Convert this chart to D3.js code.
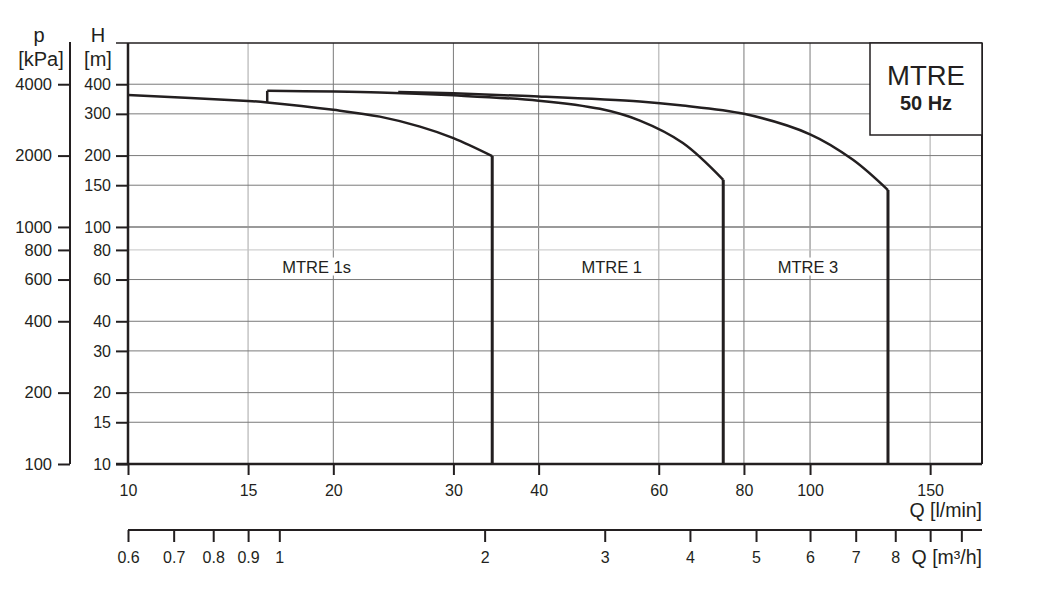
<!DOCTYPE html>
<html>
<head>
<meta charset="utf-8">
<script src="https://cdn.jsdelivr.net/npm/d3@7"></script>
<style>
  body { margin: 0; background: #fff; }
  svg text { font-family: "Liberation Sans", Arial, sans-serif; fill: #231f20; }
</style>
</head>
<body>
<svg id="chart" width="1037" height="613"></svg>
<script>
// flow in l/min, head in m
const q1s = [10, 15, 16, 20, 23.4, 26.8, 30, 34.2];
const h1s = [360, 340, 335, 312, 292, 265, 237, 199];

const q1 = [16, 23.4, 30, 40, 49.2, 56.3, 65.1, 74.6];
const h1 = [375, 369, 359, 341, 315, 281, 226, 158];

const q3 = [24.9, 30, 40, 56.3, 64.5, 80, 100, 115.6, 130.1];
const h3 = [371, 366, 355, 338, 326, 300, 246, 192, 143];

const curveNames = ["MTRE 1s", "MTRE 1", "MTRE 3"];
const curveLabelQ = [18.9, 51.2, 99.3];
const curveLabelH = [60, 60, 60];

const hTicks = [10, 15, 20, 30, 40, 60, 80, 100, 150, 200, 300, 400];
const pTicks = [100, 200, 400, 600, 800, 1000, 2000, 4000];
const qTicks = [10, 15, 20, 30, 40, 60, 80, 100, 150];
const m3hTicks = [0.6, 0.7, 0.8, 0.9, 1, 2, 3, 4, 5, 6, 7, 8, 9, 10];
const m3hLabels = ["0.6", "0.7", "0.8", "0.9", "1", "2", "3", "4", "5", "6", "7", "8", "", ""];
const lightQ = [15, 60, 150];
const lightH = [80];

const svg = d3.select("#chart");
const dark = "#231f20";

const plotL = 128, plotR = 982, plotT = 43, plotB = 464;

const x = d3.scaleLog().domain([10, 178.7]).range([plotL, plotR]);
const y = d3.scaleLog().domain([10, 597]).range([plotB, plotT]);
const yP = d3.scaleLog().domain([100, 5970]).range([plotB, plotT]);
const xM = d3.scaleLog().domain([0.6, 178.7 * 0.06]).range([plotL, plotR]);

// grid
const grid = svg.append("g");
qTicks.slice(1).forEach(function (q) {
  grid.append("line")
    .attr("x1", x(q)).attr("x2", x(q))
    .attr("y1", plotT).attr("y2", plotB)
    .attr("stroke", lightQ.includes(q) ? "#c4c4c4" : "#7a7a7a")
    .attr("stroke-width", lightQ.includes(q) ? 1.5 : 1);
});
hTicks.slice(1).forEach(function (h) {
  grid.append("line")
    .attr("x1", plotL).attr("x2", plotR)
    .attr("y1", y(h)).attr("y2", y(h))
    .attr("stroke", h === 100 ? "#9a9a9a" : lightH.includes(h) ? "#c4c4c4" : "#7a7a7a")
    .attr("stroke-width", h === 100 ? 2 : 1);
});

// frame
svg.append("line").attr("x1", 116).attr("x2", plotR).attr("y1", plotT).attr("y2", plotT)
  .attr("stroke", dark).attr("stroke-width", 1.5);
svg.append("line").attr("x1", plotR).attr("x2", plotR).attr("y1", plotT).attr("y2", plotB)
  .attr("stroke", dark).attr("stroke-width", 2);

// H axis
const hAxis = d3.axisLeft(y).tickValues(hTicks).tickFormat(d3.format("d"))
  .tickSize(12).tickPadding(5);
const hG = svg.append("g").attr("transform", `translate(${plotL},0)`).call(hAxis);
hG.select(".domain").attr("stroke", dark).attr("stroke-width", 2.5)
  .attr("d", `M0,${plotT}V${plotB}`);
hG.selectAll(".tick line").attr("stroke", dark).attr("stroke-width", 2);
hG.selectAll(".tick text").attr("font-size", 16).attr("fill", dark);

// p axis
const pAxis = d3.axisLeft(yP).tickValues(pTicks).tickFormat(d3.format("d"))
  .tickSize(12).tickPadding(6);
const pG = svg.append("g").attr("transform", "translate(70,0)").call(pAxis);
pG.select(".domain").attr("stroke", dark).attr("stroke-width", 2)
  .attr("d", `M0,${plotT - 1}V${plotB}`);
pG.selectAll(".tick line").attr("stroke", dark).attr("stroke-width", 2);
pG.selectAll(".tick text").attr("font-size", 16.5).attr("fill", dark);

// axis titles left
svg.append("text").attr("x", 39).attr("y", 42).attr("text-anchor", "middle")
  .attr("font-size", 20).text("p");
svg.append("text").attr("x", 41).attr("y", 66).attr("text-anchor", "middle")
  .attr("font-size", 20).text("[kPa]");
svg.append("text").attr("x", 98).attr("y", 42).attr("text-anchor", "middle")
  .attr("font-size", 20).text("H");
svg.append("text").attr("x", 98).attr("y", 66).attr("text-anchor", "middle")
  .attr("font-size", 20).text("[m]");

// Q l/min axis
const qAxis = d3.axisBottom(x).tickValues(qTicks).tickFormat(d3.format("d"))
  .tickSize(11).tickPadding(10);
const qG = svg.append("g").attr("transform", `translate(0,${plotB})`).call(qAxis);
qG.select(".domain").attr("stroke", dark).attr("stroke-width", 2.5)
  .attr("d", `M116,0H${plotR}`);
qG.selectAll(".tick line").attr("stroke", dark).attr("stroke-width", 2);
qG.selectAll(".tick text").attr("font-size", 16).attr("fill", dark);
svg.append("text").attr("x", plotR).attr("y", 517).attr("text-anchor", "end")
  .attr("font-size", 19.5).text("Q [l/min]");

// Q m3/h axis
const mAxis = d3.axisBottom(xM).tickValues(m3hTicks)
  .tickFormat(function (d, i) { return m3hLabels[i]; })
  .tickSize(12).tickPadding(10);
const mG = svg.append("g").attr("transform", "translate(0,530)").call(mAxis);
mG.select(".domain").attr("stroke", dark).attr("stroke-width", 2)
  .attr("d", `M${plotL},0H${plotR}`);
mG.selectAll(".tick line").attr("stroke", dark).attr("stroke-width", 2);
mG.selectAll(".tick text").attr("font-size", 16).attr("fill", dark);
svg.append("text").attr("x", plotR).attr("y", 564).attr("text-anchor", "end")
  .attr("font-size", 19.5).text("Q [m³/h]");

// curves
const line = d3.line().x(function (d) { return x(d[0]); })
  .y(function (d) { return y(d[1]); }).curve(d3.curveCatmullRom);
const curves = [[q1s, h1s], [q1, h1], [q3, h3]];
const cg = svg.append("g");
curves.forEach(function (c) {
  const pts = c[0].map(function (q, i) { return [q, c[1][i]]; });
  cg.append("path").attr("d", line(pts)).attr("fill", "none")
    .attr("stroke", dark).attr("stroke-width", 2.5);
  const last = pts[pts.length - 1];
  cg.append("line")
    .attr("x1", x(last[0])).attr("x2", x(last[0]))
    .attr("y1", y(last[1])).attr("y2", y(10))
    .attr("stroke", dark).attr("stroke-width", 3);
});
// MTRE 1 start step
cg.append("line")
  .attr("x1", x(q1[0])).attr("x2", x(q1[0]))
  .attr("y1", y(h1s[2])).attr("y2", y(h1[0]))
  .attr("stroke", dark).attr("stroke-width", 2.5);

// curve labels
curveNames.forEach(function (n, i) {
  const lg = svg.append("g");
  const bg = lg.append("rect").attr("fill", "#fff");
  const t = lg.append("text").attr("x", x(curveLabelQ[i])).attr("y", y(curveLabelH[i]) - 7)
    .attr("text-anchor", "middle").attr("font-size", 16.5).text(n);
  const b = t.node().getBBox();
  bg.attr("x", b.x - 2).attr("y", b.y).attr("width", b.width + 4).attr("height", b.height);
});

// title box
svg.append("rect").attr("x", 870).attr("y", plotT).attr("width", plotR - 870).attr("height", 92)
  .attr("fill", "#fff").attr("stroke", dark).attr("stroke-width", 1.5);
svg.append("text").attr("x", 926).attr("y", 85).attr("text-anchor", "middle")
  .attr("font-size", 27.5).text("MTRE");
svg.append("text").attr("x", 926).attr("y", 110).attr("text-anchor", "middle")
  .attr("font-size", 20).attr("font-weight", "bold").text("50 Hz");
</script>
</body>
</html>
